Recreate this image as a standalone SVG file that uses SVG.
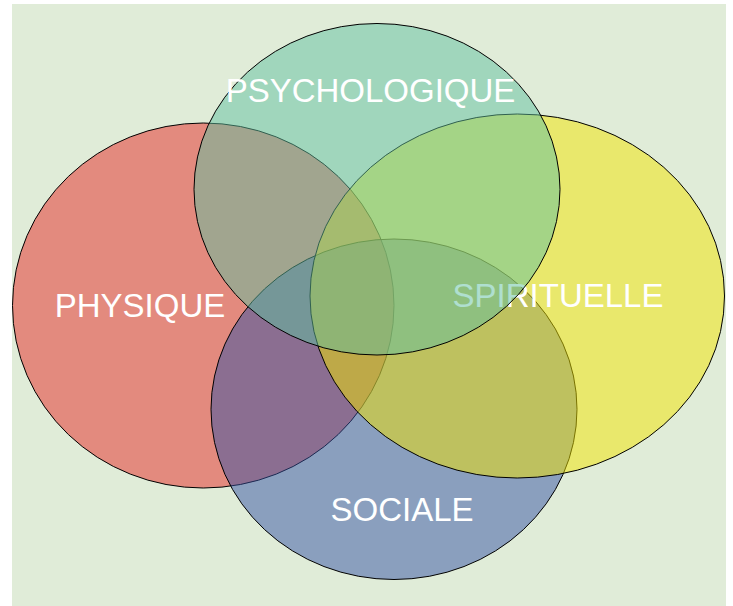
<svg xmlns="http://www.w3.org/2000/svg" width="733" height="606" viewBox="0 0 733 606">
<style>
.e{stroke:#000;stroke-width:1;fill-opacity:0.5}
.t{font-family:"Liberation Sans",Arial,sans-serif;font-size:33px;fill:#fff;text-anchor:middle}
</style>
<rect x="12" y="4" width="714" height="602" fill="#e0ecd8"/>
<g id="physique">
<ellipse class="e" cx="203.25" cy="305.5" rx="190.75" ry="182.5" fill="#e62824"/>
<text class="t" x="140" y="317">PHYSIQUE</text>
</g>
<g id="sociale">
<ellipse class="e" cx="394" cy="409.25" rx="183" ry="170.25" fill="#3452a4"/>
<text class="t" x="402" y="521">SOCIALE</text>
</g>
<g id="spirituelle">
<ellipse class="e" cx="517.25" cy="296" rx="207.25" ry="182" fill="#f2e400"/>
<text class="t" x="558" y="307">SPIRITUELLE</text>
</g>
<g id="psychologique">
<ellipse class="e" cx="377" cy="189.25" rx="183" ry="165.75" fill="#60c0a0"/>
<text class="t" x="370.5" y="102">PSYCHOLOGIQUE</text>
</g>
<g id="connectors"></g>
</svg>
